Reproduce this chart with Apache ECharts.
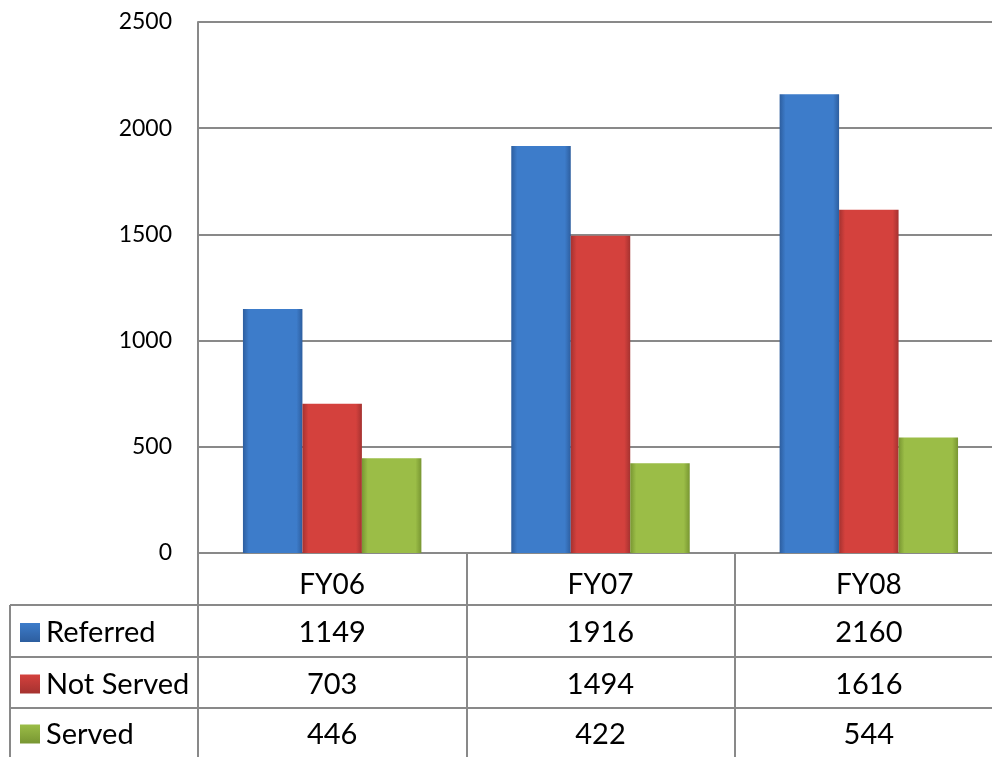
<!DOCTYPE html>
<html><head><meta charset="utf-8">
<script src="https://cdn.jsdelivr.net/npm/echarts@6/dist/echarts.min.js"></script>
<style>html,body{margin:0;padding:0;background:#fff}#c{width:992px;height:757px}</style>
</head><body><div id="c"></div>
<script>
var categories = ['FY06', 'FY07', 'FY08'];
var seriesNames = ['Referred', 'Not Served', 'Served'];
var referred = [1149, 1916, 2160];
var notServed = [703, 1494, 1616];
var served = [446, 422, 544];
var yTicks = {min: 0, max: 2500, interval: 500};

var FONT = 'Lato, "Open Sans", sans-serif';
var GRID = '#898989';
var palettes = [
  ['#2d5e9f', '#3d7cca', '#2d5e9f'],
  ['#a53230', '#d4413d', '#a53230'],
  ['#789632', '#9bbd47', '#789632']
];
function grad(p) {
  return new echarts.graphic.LinearGradient(0, 0, 1, 0, [
    {offset: 0, color: p[0]}, {offset: 0.1, color: p[1]},
    {offset: 0.9, color: p[1]}, {offset: 1, color: p[2]}
  ]);
}
function sq(p) {
  return new echarts.graphic.LinearGradient(0, 0, 0, 1, [
    {offset: 0, color: p[1]}, {offset: 1, color: p[0]}
  ]);
}
var values = [referred, notServed, served];

var chart = echarts.init(document.getElementById('c'), null, {renderer: 'canvas'});
var option = {
  animation: false,
  grid: {left: 198, top: 22, height: 531, width: 805, containLabel: false, outerBoundsMode: 'none'},
  xAxis: {
    type: 'category', data: categories,
    axisLine: {show: true, lineStyle: {color: GRID, width: 2}},
    axisTick: {show: true, length: 204, lineStyle: {color: GRID, width: 2}},
    axisLabel: {fontFamily: FONT, fontSize: 28, color: '#000', margin: 18}
  },
  yAxis: {
    type: 'value', min: yTicks.min, max: yTicks.max, interval: yTicks.interval,
    axisLine: {show: true, lineStyle: {color: GRID, width: 2}},
    axisTick: {show: false},
    splitLine: {lineStyle: {color: GRID, width: 2}},
    axisLabel: {fontFamily: FONT, fontSize: 23, color: '#000', margin: 26,
      formatter: function (v) { return String(v); }}
  },
  series: seriesNames.map(function (n, i) {
    return {
      name: n, type: 'bar', data: values[i],
      barGap: '0%', barCategoryGap: '33.5%',
      itemStyle: {color: grad(palettes[i]), shadowColor: 'rgba(0,0,0,0.3)', shadowBlur: 6, shadowOffsetY: 3}
    };
  })
};
chart.setOption(option);

var rowLines = [605, 657, 708, 757];
var g = [];
g.push({type: 'line', shape: {x1: 10, y1: 605, x2: 10, y2: 757}, style: {stroke: GRID, lineWidth: 2}});
for (var r = 0; r < 3; r++) {
  g.push({type: 'line', shape: {x1: 10, y1: rowLines[r], x2: 992, y2: rowLines[r]}, style: {stroke: GRID, lineWidth: 2}});
  var cy = (rowLines[r] + rowLines[r + 1]) / 2 + 2;
  g.push({type: 'rect', shape: {x: 20, y: cy - 10, width: 20, height: 19}, style: {fill: sq(palettes[r])}});
  g.push({type: 'text', x: 46, y: cy, style: {text: seriesNames[r], font: '29px ' + FONT, fill: '#000', textAlign: 'left', textVerticalAlign: 'middle'}});
  for (var c = 0; c < categories.length; c++) {
    var px = chart.convertToPixel({xAxisIndex: 0}, categories[c]);
    g.push({type: 'text', x: px, y: cy, style: {text: String(values[r][c]), font: '29px ' + FONT, fill: '#000', textAlign: 'center', textVerticalAlign: 'middle'}});
  }
}
chart.setOption({graphic: g});
</script></body></html>
